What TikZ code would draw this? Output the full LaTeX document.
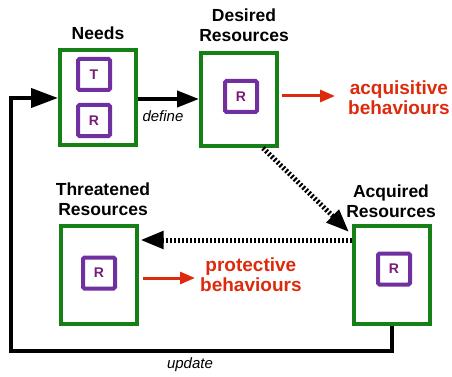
\documentclass[tikz,border=0pt]{standalone}
\usepackage{fontspec}
\setmainfont{Liberation Sans}
\usetikzlibrary{arrows.meta}
\definecolor{boxgreen}{RGB}{22,128,22}
\definecolor{tagpurple}{RGB}{112,48,160}
\definecolor{tagtext}{RGB}{120,28,120}
\definecolor{behred}{RGB}{222,42,12}
\tikzset{
  store/.style={draw=boxgreen, line width=4pt, minimum width=76pt, inner sep=0pt, fill=white},
  tag/.style={draw=tagpurple, line width=4pt, rounded corners=1.5pt, minimum width=32pt, minimum height=31pt,
    inner sep=0pt, text=tagtext, font=\fontsize{14}{16}\selectfont\bfseries},
  title/.style={align=center, inner sep=0pt, font=\fontsize{17.5}{20}\selectfont\bfseries},
  behaviour/.style={align=center, inner sep=0pt, text=behred, font=\fontsize{19}{20.5}\selectfont\bfseries},
  flow/.style={line width=4pt, -{Triangle[length=22pt,width=16pt]}},
  dotflow/.style={line width=5pt, dash pattern=on 2pt off 2pt, -{Triangle[length=23pt,width=17pt]}},
  redflow/.style={draw=behred, line width=3pt, -{Triangle[length=15pt,width=12pt]}},
  note/.style={inner sep=0pt, font=\fontsize{15}{17}\selectfont\itshape}
}
\begin{document}
\begin{tikzpicture}[x=1pt, y=-1pt]
  \useasboundingbox (0,0) rectangle (452,377);

  % resource stores
  \node[store, minimum height=95pt] (needs) at (98,97.5) {};
  \node[store, minimum height=93pt] (desired) at (239,99.5) {};
  \node[store, minimum height=98pt] (threat) at (98.5,275) {};
  \node[store, minimum height=98pt] (acquired) at (392,275) {};

  % contents of the stores
  \node[tag] (needsT) at (94,74.5) {T};
  \node[tag] (needsR) at (94,120.5) {R};
  \node[tag] (desiredR) at (241,96.5) {R};
  \node[tag] (threatR) at (99,273) {R};
  \node[tag] (acquiredR) at (394,269) {R};

  % store titles
  \node[title] (needsLbl) at (98,33) {Needs};
  \node[title] (desiredLbl) at (244,25) {Desired\\Resources};
  \node[title] (threatLbl) at (103,199) {Threatened\\Resources};
  \node[title] (acquiredLbl) at (391,201) {Acquired\\Resources};

  % behaviours
  \node[behaviour, anchor=west] (acqBeh) at (348,97.5) {acquisitive\\behaviours};
  \node[behaviour, anchor=west] (protBeh) at (200,274.5) {protective\\behaviours};

  % needs define the desired resources
  \draw[flow] (needs.east |- 0,99) -- (desired.west |- 0,99);
  \node[note] (defineLbl) at (163,116) {define};

  % desired -> acquired -> threatened
  \draw[dotflow] ([xshift=-16pt]desired.south east) -- ([xshift=-3pt,yshift=-8pt]acquired.north west);
  \draw[dotflow] ([yshift=35pt]acquired.west) -- ([xshift=2pt,yshift=35pt]threat.east);

  % behaviour arrows
  \draw[redflow] ([xshift=3pt]desired.east |- 0,96) -- ([xshift=-13pt]acqBeh.west |- 0,96);
  \draw[redflow] ([xshift=4pt]threat.east |- 0,278) -- ([xshift=-5pt]protBeh.west |- 0,278);

  % feedback loop from acquired resources back to needs
  \coordinate (loopCorner) at (11,351);
  \draw[line width=4pt, miter limit=10, -{Triangle[length=27pt,width=19pt]}]
    (acquired.south) |- (loopCorner) |- (needs.west |- 0,98);
  \node[note] (updateLbl) at (190,365) {update};
\end{tikzpicture}
\end{document}
